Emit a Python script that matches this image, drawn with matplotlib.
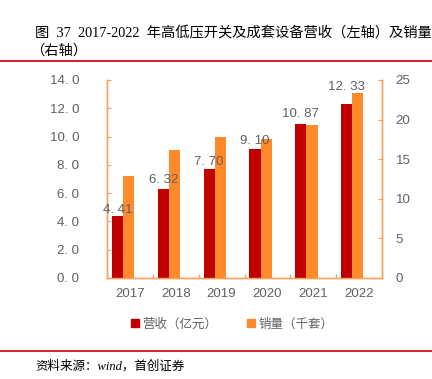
import matplotlib
matplotlib.use("Agg")
import matplotlib.pyplot as plt
from matplotlib.lines import Line2D
from matplotlib.ticker import FixedLocator

years = ["2017", "2018", "2019", "2020", "2021", "2022"]
revenue = [4.41, 6.32, 7.70, 9.10, 10.87, 12.33]
sales = [12.9, 16.2, 17.8, 17.5, 19.3, 23.3]
rev_labels = ["4. 41", "6. 32", "7. 70", "9. 10", "10. 87", "12. 33"]
left_ticks = [0, 2, 4, 6, 8, 10, 12, 14]
left_tick_labels = ["0. 0", "2. 0", "4. 0", "6. 0", "8. 0", "10. 0", "12. 0", "14. 0"]
right_ticks = [0, 5, 10, 15, 20, 25]

RED = "#C00000"
ORANGE = "#FF8A2B"
SPINE = "#F7A25E"
GRAY = "#606060"
LINE_RED = "#D0202A"

plt.rcParams['font.family'] = ['Liberation Sans', 'Noto Sans CJK SC']

fig = plt.figure(figsize=(4.32, 3.79), dpi=100)
ax = fig.add_axes([0.248, 0.2665, 0.636, 0.5225])
ax2 = ax.twinx()

x = list(range(len(years)))
w = 0.245
ax.bar([i - 0.272 for i in x], revenue, width=w, color=RED, zorder=3)
ax2.bar([i - 0.027 for i in x], sales, width=w, color=ORANGE, zorder=3)

offsets_px = [6, 8.5, 7.5, 8, 10, 16.5]
for i, (v, lab) in enumerate(zip(revenue, rev_labels)):
    ax2.annotate(lab, (i - 0.272, v), xycoords=ax.transData,
                 xytext=(0, offsets_px[i] * 0.72),
                 textcoords="offset points", ha="center", va="center",
                 fontsize=9.5, color=GRAY, zorder=5)

ax.set_xlim(-0.5, 5.5)
ax.set_ylim(0, 14)
ax2.set_ylim(0, 25)
ax.set_yticks(left_ticks)
ax.set_yticklabels(left_tick_labels)
ax2.set_yticks(right_ticks)

ax.set_xticks(x)
ax.set_xticklabels(years)
ax.xaxis.set_minor_locator(FixedLocator([0.5, 1.5, 2.5, 3.5, 4.5]))
ax.tick_params(axis="x", which="major", length=0, pad=7, labelsize=9.5, labelcolor=GRAY)
ax.tick_params(axis="x", which="minor", direction="in", length=3, color=SPINE, width=1)
ax.tick_params(axis="y", direction="in", length=3, color=SPINE, pad=20,
               labelsize=9.5, labelcolor=GRAY)
ax2.tick_params(axis="y", direction="in", length=3, color=SPINE, pad=10,
                labelsize=9.5, labelcolor=GRAY)

for a in (ax, ax2):
    a.spines["top"].set_visible(False)
    for s in ("left", "right", "bottom"):
        a.spines[s].set_color(SPINE)
        a.spines[s].set_linewidth(1.0)

# Title
title_font = ['Liberation Serif', 'Noto Sans CJK SC']
fig.text(35 / 432, 1 - 33 / 379, "图  37  2017-2022  年高低压开关及成套设备营收（左轴）及销量",
         family=title_font, fontsize=10.3, color="black", va="center", ha="left")
fig.text(30 / 432, 1 - 51 / 379, "（右轴）", family=title_font, fontsize=10.3,
         color="black", va="center", ha="left")

# Red separator lines
fig.add_artist(Line2D([0, 1], [1 - 60.7 / 379] * 2, color=LINE_RED, linewidth=1.4))
fig.add_artist(Line2D([0, 1], [1 - 351 / 379] * 2, color=LINE_RED, linewidth=1.4))

# Legend
handles = [Line2D([], [], marker="s", linestyle="none", markersize=6, color=RED),
           Line2D([], [], marker="s", linestyle="none", markersize=6, color=ORANGE)]
fig.legend(handles, ["营收（亿元）", "销量（千套）"], loc="center",
           bbox_to_anchor=(231 / 432, 1 - 324 / 379), ncol=2, frameon=False,
           prop={"family": ["Noto Sans CJK SC"], "size": 9}, labelcolor=GRAY,
           handletextpad=0.1, columnspacing=2.2, handlelength=1.0)

fig.text(35 / 432, 1 - 366 / 379, "资料来源：wind，首创证券", family=title_font,
         style="italic", fontsize=9, color="black", va="center", ha="left")

fig.savefig("out.png", dpi=100)
